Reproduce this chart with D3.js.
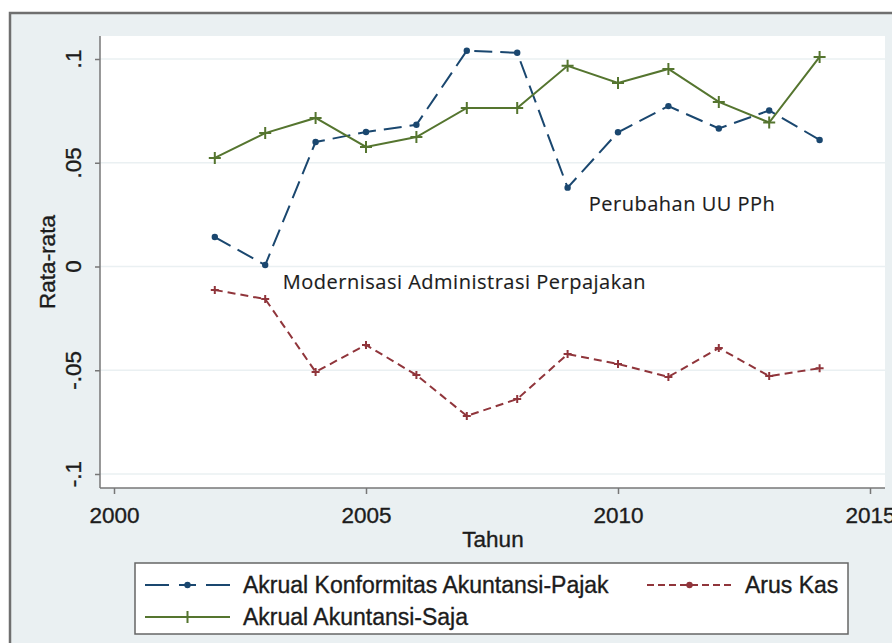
<!DOCTYPE html>
<html>
<head>
<meta charset="utf-8">
<script src="https://cdn.jsdelivr.net/npm/d3@7"></script>
<style>
  body { margin: 0; background: #fff; }
  svg text { font-family: "Liberation Sans", Arial, sans-serif; fill: #1c1c1c; stroke: #1c1c1c; stroke-width: 0.35px; }
</style>
</head>
<body>
<div id="chart"></div>
<script>
// data
const years = [2002, 2003, 2004, 2005, 2006, 2007, 2008, 2009, 2010, 2011, 2012, 2013, 2014];
const konformitas = [0.0142, 0.0007, 0.0600, 0.0648, 0.0683, 0.1040, 0.1030, 0.0380, 0.0647, 0.0773, 0.0665, 0.0752, 0.0610];
const arusKas = [-0.0113, -0.0157, -0.0508, -0.0378, -0.0523, -0.0720, -0.0639, -0.0422, -0.0470, -0.0532, -0.0393, -0.0528, -0.0490];
const akuntansiSaja = [0.0523, 0.0643, 0.0716, 0.0576, 0.0624, 0.0764, 0.0764, 0.0967, 0.0884, 0.0952, 0.0793, 0.0694, 0.1010];
const xTicks = [2000, 2005, 2010, 2015];
const yTicks = [0.1, 0.05, 0, -0.05, -0.1];
const yTickLabels = [".1", ".05", "0", "-.05", "-.1"];
const legendLabels = ["Akrual Konformitas Akuntansi-Pajak", "Arus Kas", "Akrual Akuntansi-Saja"];
const notes = [
  { text: "Modernisasi Administrasi Perpajakan", year: 2003.35, value: -0.0108 },
  { text: "Perubahan UU PPh", year: 2009.42, value: 0.0267 }
];

const width = 892, height = 643;
const plot = { left: 100, right: 885, top: 36, bottom: 488 };

const svg = d3.select("#chart").append("svg")
  .attr("width", width)
  .attr("height", height);

// graph region with frame
svg.append("rect")
  .attr("x", 10).attr("y", 13)
  .attr("width", width + 20).attr("height", height + 20)
  .attr("fill", "#eaf0f2")
  .attr("stroke", "#6f6f6f")
  .attr("stroke-width", 2.5);

svg.append("rect")
  .attr("x", plot.left).attr("y", plot.top)
  .attr("width", plot.right - plot.left).attr("height", plot.bottom - plot.top)
  .attr("fill", "#fff");

const x = d3.scaleLinear().domain([2000, 2015]).range([114, 870]);
const y = d3.scaleLinear().domain([-0.1, 0.1]).range([474, 59]);

// grid lines
svg.append("g").selectAll("line")
  .data(yTicks)
  .enter().append("line")
  .attr("x1", plot.left).attr("x2", plot.right)
  .attr("y1", d => y(d)).attr("y2", d => y(d))
  .attr("stroke", "#eaf0f2")
  .attr("stroke-width", 1.5);

// y axis
const yAxis = svg.append("g")
  .attr("transform", "translate(" + plot.left + ",0)")
  .call(d3.axisLeft(y).tickValues(yTicks).tickSize(5).tickFormat(""));
yAxis.select(".domain").attr("d", "M0," + plot.top + "V" + plot.bottom);
yAxis.selectAll("line, path").attr("stroke", "#777").attr("stroke-width", 1.5);

svg.append("g").selectAll("text")
  .data(yTicks)
  .enter().append("text")
  .attr("transform", d => "translate(81," + y(d) + ") rotate(-90)")
  .attr("text-anchor", "middle")
  .style("font-size", "22.5px")
  .text((d, i) => yTickLabels[i]);

// x axis
const xAxis = svg.append("g")
  .attr("transform", "translate(0," + plot.bottom + ")")
  .call(d3.axisBottom(x).tickValues(xTicks).tickSize(6).tickFormat(d3.format("d")));
xAxis.select(".domain").attr("d", "M" + plot.left + ",0H" + plot.right);
xAxis.selectAll("line, path").attr("stroke", "#777").attr("stroke-width", 1.5);
xAxis.selectAll("text")
  .attr("y", 35).attr("dy", null)
  .style("font-size", "22.5px")
  .style("font-family", "'Liberation Sans', Arial, sans-serif");

svg.append("text")
  .attr("x", 493).attr("y", 547)
  .attr("text-anchor", "middle")
  .style("font-size", "22.5px")
  .text("Tahun");

svg.append("text")
  .attr("transform", "translate(55,262) rotate(-90)")
  .attr("text-anchor", "middle")
  .style("font-size", "22.5px")
  .text("Rata-rata");

// series
const series = [
  { values: konformitas, color: "#1a476f", dash: "18,8", marker: "dot" },
  { values: arusKas, color: "#90353b", dash: "8,5", marker: "smallplus" },
  { values: akuntansiSaja, color: "#55752f", dash: null, marker: "plus" }
];

const line = d3.line()
  .x(d => x(d[0]))
  .y(d => y(d[1]));

function drawMarker(g, cx, cy, s) {
  if (s.marker === "dot") {
    g.append("circle").attr("cx", cx).attr("cy", cy).attr("r", 3.2).attr("fill", s.color);
  } else {
    const r = s.marker === "plus" ? 6 : 4;
    g.append("path")
      .attr("d", "M" + (cx - r) + "," + cy + "H" + (cx + r) + "M" + cx + "," + (cy - r) + "V" + (cy + r))
      .attr("stroke", s.color).attr("stroke-width", 2);
  }
}

series.forEach(s => {
  const pts = years.map((yr, i) => [yr, s.values[i]]);
  const g = svg.append("g");
  g.append("path")
    .datum(pts)
    .attr("d", line)
    .attr("fill", "none")
    .attr("stroke", s.color)
    .attr("stroke-width", 2)
    .attr("stroke-dasharray", s.dash);
  pts.forEach(p => drawMarker(g, x(p[0]), y(p[1]), s));
});

// annotations
svg.append("g").selectAll("text")
  .data(notes)
  .enter().append("text")
  .attr("x", d => x(d.year))
  .attr("y", d => y(d.value))
  .style("font-family", "'Open Sans', 'DejaVu Sans', sans-serif")
  .style("font-size", "20px")
  .style("letter-spacing", "0.5px")
  .style("stroke-width", "0.15px")
  .text(d => d.text);

// legend
const legend = svg.append("g");
legend.append("rect")
  .attr("x", 135).attr("y", 563)
  .attr("width", 713).attr("height", 71)
  .attr("fill", "#fff")
  .attr("stroke", "#666")
  .attr("stroke-width", 1.5);

const legendItems = [
  { s: series[0], label: legendLabels[0], kx: 145, ty: 585 },
  { s: series[1], label: legendLabels[1], kx: 647, ty: 585 },
  { s: series[2], label: legendLabels[2], kx: 145, ty: 617 }
];
legendItems.forEach(it => {
  legend.append("line")
    .attr("x1", it.kx).attr("x2", it.kx + 85)
    .attr("y1", it.ty).attr("y2", it.ty)
    .attr("stroke", it.s.color)
    .attr("stroke-width", 2)
    .attr("stroke-dasharray", it.s.dash ? (it.s.dash === "18,8" ? "24,10,17,10,24" : "7,4") : null);
  drawMarker(legend, it.kx + 42.5, it.ty, it.s.marker === "smallplus" ? { marker: "dot", color: it.s.color } : it.s);
  legend.append("text")
    .attr("x", it.kx + 98).attr("y", it.ty + 8)
    .style("font-size", "23px")
    .text(it.label);
});
</script>
</body>
</html>
